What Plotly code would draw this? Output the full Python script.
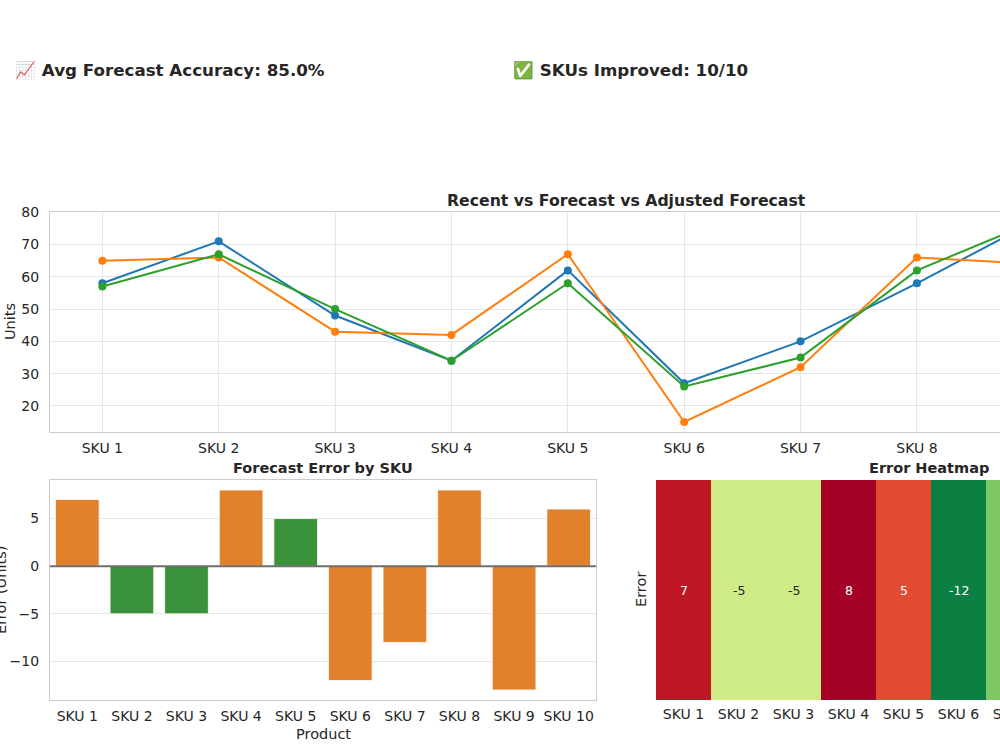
import plotly.graph_objects as go

# ---------------- data ----------------
skus = [f"SKU {i}" for i in range(1, 11)]
recent = [58, 71, 48, 34, 62, 27, 40, 58, 77, 50]
forecast = [65, 66, 43, 42, 67, 15, 32, 66, 64, 56]
adjusted = [57, 67, 50, 34, 58, 26, 35, 62, 77, 52]
errors = [f - r for f, r in zip(forecast, recent)]
avg_accuracy = 85.0
improved = 10
total_skus = 10

# ---------------- style ----------------
W, H = 1300, 750
FONT = "DejaVu Sans"
TXT = "#262626"
GRID = "#e6e6e6"
SPINE = "#cccccc"
BLUE, ORANGE, GREEN = "#1f77b4", "#ff7f0e", "#2ca02c"
BAR_ORANGE, BAR_GREEN = "#e1812c", "#3a923a"
rdylgn = ["#a50026", "#d73027", "#f46d43", "#fdae61", "#fee08b", "#ffffbf",
          "#d9ef8b", "#a6d96a", "#66bd63", "#1a9850", "#006837"]
rdylgn_r = rdylgn[::-1]
cscale = [[i / (len(rdylgn_r) - 1), c] for i, c in enumerate(rdylgn_r)]


def px_x(p):
    return p / W


def px_y(p):
    return (H - p) / H


def interp_color(t):
    t = min(max(t, 0.0), 1.0)
    n = len(rdylgn_r) - 1
    i = min(int(t * n), n - 1)
    f = t * n - i
    c1 = [int(rdylgn_r[i][k:k + 2], 16) for k in (1, 3, 5)]
    c2 = [int(rdylgn_r[i + 1][k:k + 2], 16) for k in (1, 3, 5)]
    return [a + (b - a) * f for a, b in zip(c1, c2)]


def luminance(rgb):
    out = []
    for v in rgb:
        v = v / 255
        out.append(v / 12.92 if v <= 0.03928 else ((v + 0.055) / 1.055) ** 2.4)
    return 0.2126 * out[0] + 0.7152 * out[1] + 0.0722 * out[2]


fig = go.Figure()

# ---------------- line chart ----------------
for name, vals, col in [("Recent", recent, BLUE), ("Forecast", forecast, ORANGE),
                        ("Adjusted Forecast", adjusted, GREEN)]:
    fig.add_trace(go.Scatter(x=skus, y=vals, mode="lines+markers", name=name,
                             line=dict(color=col, width=2),
                             marker=dict(color=col, size=8),
                             xaxis="x", yaxis="y"))

all_vals = recent + forecast + adjusted
lo, hi = min(all_vals), max(all_vals)
pad = 0.05 * (hi - lo)

# ---------------- bar chart ----------------
bar_cols = [BAR_GREEN if abs(e) <= 5 else BAR_ORANGE for e in errors]
fig.add_trace(go.Bar(x=skus, y=errors, marker=dict(color=bar_cols, line=dict(color="white", width=0.8)),
                     width=0.8, showlegend=False, xaxis="x2", yaxis="y2"))
elo, ehi = min(errors), max(errors)
epad = 0.05 * (ehi - elo)

# ---------------- heatmap ----------------
zmin, zmax = min(errors), max(errors)
fig.add_trace(go.Heatmap(z=[errors], x=skus, y=["Error"], colorscale=cscale,
                         zmin=zmin, zmax=zmax, xaxis="x3", yaxis="y3",
                         colorbar=dict(x=px_x(1222), xanchor="left", y=px_y(590), yanchor="middle",
                                       len=220 / H, thickness=14, outlinewidth=0,
                                       tickfont=dict(family=FONT, size=14, color=TXT))))

annotations = []
for s, e in zip(skus, errors):
    rgb = interp_color((e - zmin) / (zmax - zmin))
    col = TXT if luminance(rgb) > 0.408 else "white"
    annotations.append(dict(x=s, y="Error", xref="x3", yref="y3", text=str(e), showarrow=False,
                            font=dict(family=FONT, size=12.5, color=col)))

# ---------------- texts ----------------
def ann(text, x, y, size, bold=False, angle=0, xanchor="center"):
    t = f"<b>{text}</b>" if bold else text
    annotations.append(dict(text=t, x=px_x(x), y=px_y(y), xref="paper", yref="paper",
                            xanchor=xanchor, yanchor="middle", showarrow=False, textangle=angle,
                            font=dict(family=FONT, size=size, color=TXT)))


ann(f"\U0001F4C8 Avg Forecast Accuracy: {avg_accuracy:.1f}%", 13, 70, 16.7, bold=True, xanchor="left")
ann(f"\u2705 SKUs Improved: {improved}/{total_skus}", 511, 70, 16.7, bold=True, xanchor="left")
ann("Recent vs Forecast vs Adjusted Forecast", 626, 200, 15.7, bold=True)
ann("Forecast Error by SKU", 323, 468, 14.5, bold=True)
ann("Error Heatmap", 929, 468, 14.5, bold=True)
ann("Units", 10, 322, 14.5, angle=-90)
ann("Error (Units)", 1, 590, 14.5, angle=-90)
ann("Product", 323, 734, 14.5)
ann("Error", 641, 590, 14.5, angle=-90)

axis_common = dict(showline=True, linecolor=SPINE, linewidth=1.25, mirror=True,
                   tickfont=dict(family=FONT, size=14, color=TXT), zeroline=False,
                   ticks="", gridcolor=GRID, gridwidth=1, automargin=False)

fig.update_layout(
    width=W, height=H,
    margin=dict(l=0, r=0, t=0, b=0, pad=0, autoexpand=False),
    paper_bgcolor="white", plot_bgcolor="white",
    font=dict(family=FONT, color=TXT),
    annotations=annotations,
    bargap=0.2,
    legend=dict(x=px_x(1190), xanchor="right", y=px_y(220), yanchor="top",
                bgcolor="rgba(255,255,255,0.8)", bordercolor=SPINE, borderwidth=1,
                font=dict(family=FONT, size=13, color=TXT)),
    xaxis=dict(domain=[px_x(50), px_x(1202)], anchor="y", range=[-0.45, len(skus) - 0.55],
               showgrid=True, ticklabelstandoff=3, **axis_common),
    yaxis=dict(domain=[px_y(432), px_y(212)], anchor="x", range=[lo - pad, hi + pad],
               dtick=10, showgrid=True, ticklabelstandoff=7, **axis_common),
    xaxis2=dict(domain=[px_x(50), px_x(596)], anchor="y2", range=[-0.5, len(skus) - 0.5],
                showgrid=False, ticklabelstandoff=3, **axis_common),
    yaxis2=dict(domain=[px_y(700), px_y(480)], anchor="x2", range=[elo - epad, ehi + epad],
                dtick=5, showgrid=True, ticklabelstandoff=7, **axis_common),
    xaxis3=dict(domain=[px_x(656), px_x(1206)], anchor="y3", showline=False, showgrid=False,
                zeroline=False, ticklabelstandoff=4, automargin=False,
                tickfont=dict(family=FONT, size=14, color=TXT)),
    yaxis3=dict(domain=[px_y(700), px_y(480)], anchor="x3", showline=False, showgrid=False,
                zeroline=False, showticklabels=False, automargin=False),
)

fig.add_shape(type="line", xref="x2 domain", yref="y2", x0=0, x1=1, y0=0, y1=0,
              line=dict(color="#6e6e6e", width=2))

post = (
    "var d=document.getElementById('{plot_id}');"
    "d.style.position='fixed';d.style.left='0px';d.style.top='0px';"
    "document.documentElement.style.overflow='hidden';"
    "document.body.style.overflow='hidden';document.body.style.margin='0';"
)
fig.write_html("out.html", post_script=post)
